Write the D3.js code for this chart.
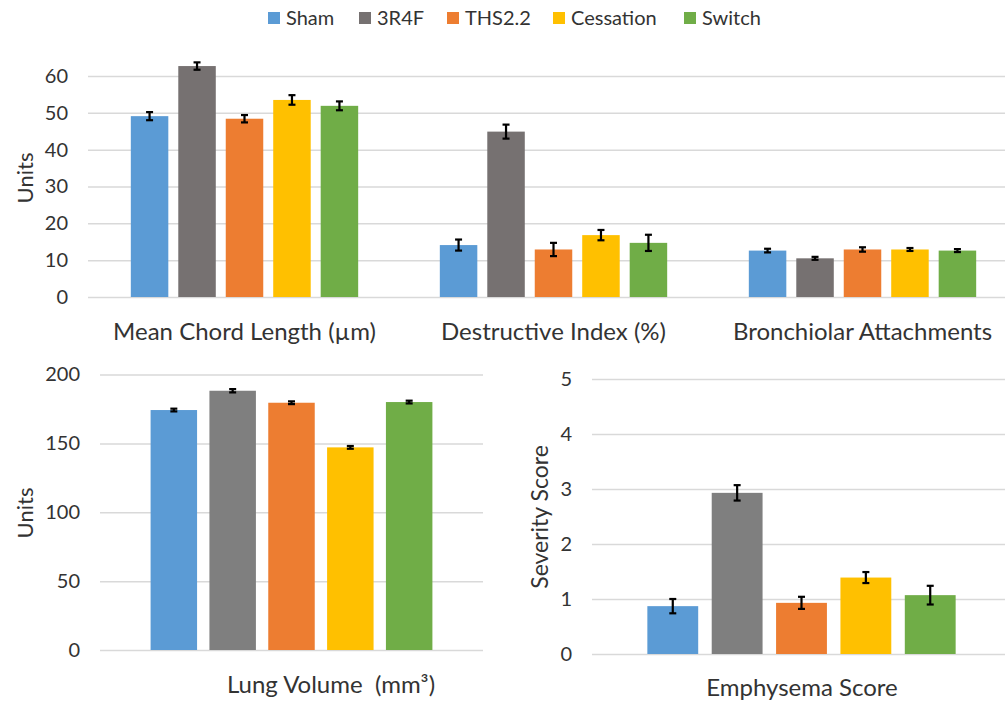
<!DOCTYPE html>
<html>
<head>
<meta charset="utf-8">
<script src="https://cdn.jsdelivr.net/npm/d3@7"></script>
<style>
  body { margin: 0; background: #fff; }
  text { font-family: Lato, "Open Sans", sans-serif; fill: #333; }
</style>
</head>
<body>
<script>
// groups and their colours
var series = ['Sham', '3R4F', 'THS2.2', 'Cessation', 'Switch'];
var colorsTop = ['#5b9bd5', '#767171', '#ed7d31', '#ffc000', '#70ad47'];
var colorsBottom = ['#5b9bd5', '#7f7f7f', '#ed7d31', '#ffc000', '#70ad47'];

// top panel
var topCategories = ['Mean Chord Length (µm)', 'Destructive Index (%)', 'Bronchiolar Attachments'];
var topMeans = [
	[49.1, 62.7, 48.4, 53.5, 51.9],
	[14.1, 44.9, 12.9, 16.8, 14.7],
	[12.6, 10.5, 12.9, 12.9, 12.6]
];
var topErrors = [
	[1.1, 1.0, 1.0, 1.3, 1.2],
	[1.5, 1.9, 1.8, 1.4, 2.2],
	[0.5, 0.4, 0.6, 0.4, 0.4]
];
var topTicks = [0, 10, 20, 30, 40, 50, 60];

// bottom left
var lungLabel = 'Lung Volume  (mm³)';
var lungMeans = [174.2, 188.2, 179.5, 147.1, 180.0];
var lungErrors = [1.0, 1.2, 1.0, 1.0, 1.0];
var lungTicks = [0, 50, 100, 150, 200];

// bottom right
var emphLabel = 'Emphysema Score';
var emphMeans = [0.87, 2.93, 0.93, 1.39, 1.07];
var emphErrors = [0.13, 0.14, 0.11, 0.10, 0.17];
var emphTicks = [0, 1, 2, 3, 4, 5];

var w = 1005, h = 701;

var svg = d3.select('body').append('svg')
	.attr('width', w)
	.attr('height', h);

// legend
var legendX = [268, 359, 447, 553, 684];
var legend = svg.selectAll('.legend')
	.data(series)
	.enter().append('g')
		.attr('class', 'legend')
		.attr('transform', function(d, i) { return 'translate(' + [legendX[i], 18] + ')'; });
legend.append('rect')
	.attr('x', 0).attr('y', -6)
	.attr('width', 12).attr('height', 12)
	.attr('fill', function(d, i) { return colorsTop[i]; });
legend.append('text')
	.attr('x', 18).attr('dy', '0.35em')
	.style('font-size', '20px')
	.text(function(d) { return d; });

// gridlines + tick labels, like excel
function yAxis(g, y, ticks, x0, x1) {
	var ax = g.append('g')
		.attr('transform', 'translate(' + x0 + ',0)')
		.call(d3.axisLeft(y).tickValues(ticks).tickFormat(d3.format('d'))
			.tickSize(-(x1 - x0)).tickPadding(20));
	ax.select('.domain').remove();
	ax.selectAll('line').attr('stroke', '#d9d9d9').attr('stroke-width', 1.5);
	ax.selectAll('text').style('font-size', '20px').attr('fill', '#333');
}

function bars(g, x, y, means, errs, colors) {
	var bw = x.bandwidth();
	g.selectAll('.bar')
		.data(means)
		.enter().append('rect')
			.attr('class', 'bar')
			.attr('x', function(d, i) { return x(series[i]); })
			.attr('y', function(d) { return y(d); })
			.attr('width', bw)
			.attr('height', function(d) { return y(0) - y(d); })
			.attr('fill', function(d, i) { return colors[i]; });

	var eb = g.selectAll('.err')
		.data(means)
		.enter().append('g')
			.attr('class', 'err')
			.attr('stroke', '#000')
			.attr('stroke-width', 2.2);
	eb.append('line')
		.attr('x1', function(d, i) { return x(series[i]) + bw / 2; })
		.attr('x2', function(d, i) { return x(series[i]) + bw / 2; })
		.attr('y1', function(d, i) { return y(d + errs[i]); })
		.attr('y2', function(d, i) { return y(d - errs[i]); });
	[1, -1].forEach(function(s) {
		eb.append('line')
			.attr('x1', function(d, i) { return x(series[i]) + bw / 2 - 3.5; })
			.attr('x2', function(d, i) { return x(series[i]) + bw / 2 + 3.5; })
			.attr('y1', function(d, i) { return y(d + s * errs[i]); })
			.attr('y2', function(d, i) { return y(d + s * errs[i]); });
	});
}

// ---- top panel
var topG = svg.append('g');
var yTop = d3.scaleLinear().domain([0, 60]).range([297, 76]);
var x0Top = d3.scaleBand().domain(topCategories).range([90, 1017]).padding(0);
var x1Top = d3.scaleBand().domain(series).range([0, x0Top.bandwidth()])
	.paddingInner(0.21).paddingOuter(0.86);

yAxis(topG, yTop, topTicks, 88, 1005);

topCategories.forEach(function(c, k) {
	var g = topG.append('g').attr('transform', 'translate(' + x0Top(c) + ',0)');
	bars(g, x1Top, yTop, topMeans[k], topErrors[k], colorsTop);
});

topG.selectAll('.cat')
	.data(topCategories)
	.enter().append('text')
		.attr('class', 'cat')
		.attr('x', function(d) { return x0Top(d) + x0Top.bandwidth() / 2; })
		.attr('y', 332)
		.attr('dy', '0.35em')
		.attr('text-anchor', 'middle')
		.style('font-size', '24px')
		.text(function(d) { return d; });

topG.append('text')
	.attr('transform', 'translate(25,178)rotate(-90)')
	.attr('text-anchor', 'middle')
	.attr('dy', '0.35em')
	.style('font-size', '22px')
	.text('Units');

// ---- bottom left
var blG = svg.append('g');
var yLung = d3.scaleLinear().domain([0, 200]).range([650, 374.5]);
var xLung = d3.scaleBand().domain(series).range([100, 483])
	.paddingInner(0.21).paddingOuter(0.86);
yAxis(blG, yLung, lungTicks, 100, 483);
bars(blG, xLung, yLung, lungMeans, lungErrors, colorsBottom);

blG.append('text')
	.attr('x', 331).attr('y', 685)
	.attr('dy', '0.35em')
	.attr('text-anchor', 'middle')
	.style('font-size', '24px')
	.style('white-space', 'pre')
	.text(lungLabel);

blG.append('text')
	.attr('transform', 'translate(25,513)rotate(-90)')
	.attr('text-anchor', 'middle')
	.attr('dy', '0.35em')
	.style('font-size', '22px')
	.text('Units');

// ---- bottom right
var brG = svg.append('g');
var yEmph = d3.scaleLinear().domain([0, 5]).range([654, 379]);
var xEmph = d3.scaleBand().domain(series).range([592, 1011])
	.paddingInner(0.21).paddingOuter(0.86);
yAxis(brG, yEmph, emphTicks, 592, 1005);
bars(brG, xEmph, yEmph, emphMeans, emphErrors, colorsBottom);

brG.append('text')
	.attr('x', 802).attr('y', 688)
	.attr('dy', '0.35em')
	.attr('text-anchor', 'middle')
	.style('font-size', '24px')
	.text(emphLabel);

brG.append('text')
	.attr('transform', 'translate(540,517)rotate(-90)')
	.attr('text-anchor', 'middle')
	.attr('dy', '0.35em')
	.style('font-size', '23px')
	.text('Severity Score');
</script>
</body>
</html>
